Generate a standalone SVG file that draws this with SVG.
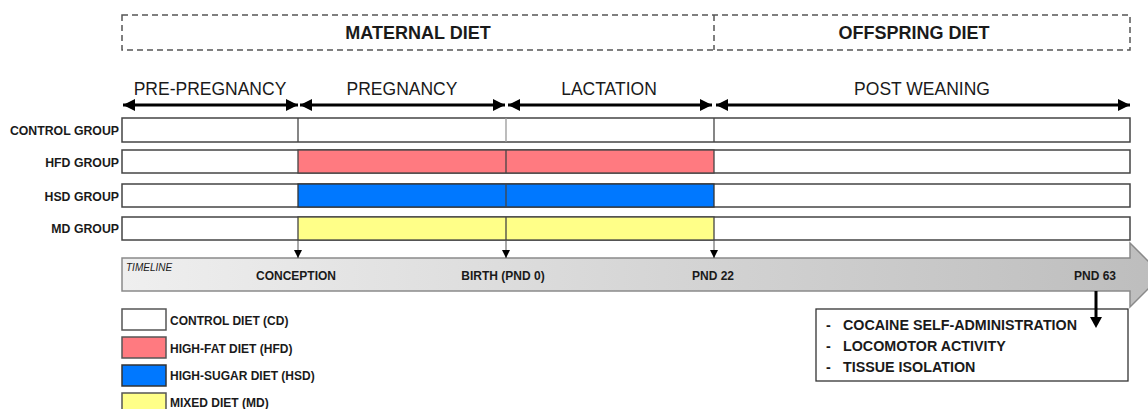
<svg xmlns="http://www.w3.org/2000/svg" width="1148" height="409" viewBox="0 0 1148 409">
<style>
text{font-family:"Liberation Sans",Arial,sans-serif;fill:#1a1a1a}
.hdr{font-size:18px;font-weight:bold;text-anchor:middle}
.phase{font-size:17.5px;text-anchor:middle}
.row{font-size:12.3px;font-weight:bold;text-anchor:end}
.tl{font-size:12px;font-weight:bold;text-anchor:middle}
.lg{font-size:12px;font-weight:bold}
.bx{font-size:14.3px;font-weight:bold}
.dash{fill:none;stroke:#555;stroke-width:1.5;stroke-dasharray:6 4}
.bar{stroke:#444;stroke-width:1.5}
.div{stroke:#444;stroke-width:1.3}
.phasearrow{stroke:#000;stroke-width:3;fill:none}
.drop{stroke:#555;stroke-width:1}
</style>
<defs>
<marker id="ah" viewBox="0 0 10 10" refX="10" refY="5" markerWidth="4" markerHeight="4" orient="auto-start-reverse" markerUnits="strokeWidth">
<path d="M0,0 L10,5 L0,10 Z" fill="#000"/>
</marker>
<marker id="sm" viewBox="0 0 10 10" refX="10" refY="5" markerWidth="8" markerHeight="8" orient="auto" markerUnits="strokeWidth">
<path d="M0,0 L10,5 L0,10 Z" fill="#000"/>
</marker>
<linearGradient id="tg" x1="0" y1="0" x2="1" y2="0">
<stop offset="0" stop-color="#efefef"/>
<stop offset="1" stop-color="#bdbdbd"/>
</linearGradient>
</defs>

<g id="header">
<rect class="dash" x="122" y="15" width="1008" height="35"/>
<line class="dash" x1="714" y1="15" x2="714" y2="50"/>
<text class="hdr" x="418" y="39">MATERNAL DIET</text>
<text class="hdr" x="914" y="39">OFFSPRING DIET</text>
</g>

<g id="phases">
<text class="phase" x="210" y="95">PRE-PREGNANCY</text>
<text class="phase" x="402" y="95">PREGNANCY</text>
<text class="phase" x="609" y="95">LACTATION</text>
<text class="phase" x="922" y="95">POST WEANING</text>
</g>

<g id="control-group">
<text class="row" x="119" y="135">CONTROL GROUP</text>
<rect class="bar" x="122" y="118" width="1008" height="24" fill="#fff"/>
<line class="div" x1="298" y1="118" x2="298" y2="142"/>
<line stroke="#999" stroke-width="1.3" x1="506" y1="118" x2="506" y2="142"/>
<line class="div" x1="714" y1="118" x2="714" y2="142"/>
</g>

<g id="hfd-group">
<text class="row" x="119" y="167">HFD GROUP</text>
<rect class="bar" x="122" y="150" width="1008" height="23" fill="#fff"/>
<rect x="298" y="150" width="416" height="23" fill="#ff7a80" stroke="#444" stroke-width="1.3"/>
<line class="div" x1="506" y1="150" x2="506" y2="173"/>
</g>

<g id="hsd-group">
<text class="row" x="119" y="201">HSD GROUP</text>
<rect class="bar" x="122" y="184" width="1008" height="23" fill="#fff"/>
<rect x="298" y="184" width="416" height="23" fill="#0078ff" stroke="#333" stroke-width="1.3"/>
<line class="div" x1="506" y1="184" x2="506" y2="207"/>
</g>

<g id="md-group">
<text class="row" x="119" y="233">MD GROUP</text>
<rect class="bar" x="122" y="217" width="1008" height="23" fill="#fff"/>
<rect x="298" y="217" width="416" height="23" fill="#ffff88" stroke="#444" stroke-width="1.3"/>
<line class="div" x1="506" y1="217" x2="506" y2="240"/>
</g>

<g id="timeline">
<path d="M122,258 L1130,258 L1130,243 L1162,275 L1130,307 L1130,291 L122,291 Z" fill="url(#tg)" stroke="#8a8a8a" stroke-width="1.5"/>
<text x="126" y="271" font-size="10" font-style="italic" fill="#333">TIMELINE</text>
<text class="tl" x="296" y="280">CONCEPTION</text>
<text class="tl" x="503" y="280">BIRTH (PND 0)</text>
<text class="tl" x="713" y="280">PND 22</text>
<text class="tl" x="1095" y="280">PND 63</text>
</g>

<g id="outcomes">
<rect x="816" y="309" width="312" height="72" fill="#fff" stroke="#333" stroke-width="1.3"/>
<text class="bx" x="826" y="330">-</text>
<text class="bx" x="843" y="330">COCAINE SELF-ADMINISTRATION</text>
<text class="bx" x="826" y="351">-</text>
<text class="bx" x="843" y="351">LOCOMOTOR ACTIVITY</text>
<text class="bx" x="826" y="372">-</text>
<text class="bx" x="843" y="372">TISSUE ISOLATION</text>
</g>

<g id="legend">
<rect x="122" y="309" width="44" height="21" fill="#fff" stroke="#555" stroke-width="1.5"/>
<text class="lg" x="170" y="325">CONTROL DIET (CD)</text>
<rect x="122" y="337" width="44" height="21" fill="#ff7a80" stroke="#555" stroke-width="1.5"/>
<text class="lg" x="170" y="353">HIGH-FAT DIET (HFD)</text>
<rect x="122" y="365" width="44" height="21" fill="#0078ff" stroke="#333" stroke-width="1.5"/>
<text class="lg" x="170" y="380">HIGH-SUGAR DIET (HSD)</text>
<rect x="122" y="393" width="44" height="21" fill="#ffff88" stroke="#555" stroke-width="1.5"/>
<text class="lg" x="170" y="407">MIXED DIET (MD)</text>
</g>

<g id="connectors">
<line class="phasearrow" x1="123" y1="105" x2="298" y2="105" marker-start="url(#ah)" marker-end="url(#ah)"/>
<line class="phasearrow" x1="300" y1="105" x2="505" y2="105" marker-start="url(#ah)" marker-end="url(#ah)"/>
<line class="phasearrow" x1="508" y1="105" x2="712" y2="105" marker-start="url(#ah)" marker-end="url(#ah)"/>
<line class="phasearrow" x1="716" y1="105" x2="1130" y2="105" marker-start="url(#ah)" marker-end="url(#ah)"/>
<line class="drop" x1="298" y1="239" x2="298" y2="258" marker-end="url(#sm)"/>
<line class="drop" x1="506" y1="239" x2="506" y2="258" marker-end="url(#sm)"/>
<line class="drop" x1="714" y1="239" x2="714" y2="258" marker-end="url(#sm)"/>
<line stroke="#000" stroke-width="3" x1="1096" y1="291" x2="1096" y2="318"/>
<path d="M1090,317 L1102,317 L1096,328 Z" fill="#000"/>
</g>
</svg>
